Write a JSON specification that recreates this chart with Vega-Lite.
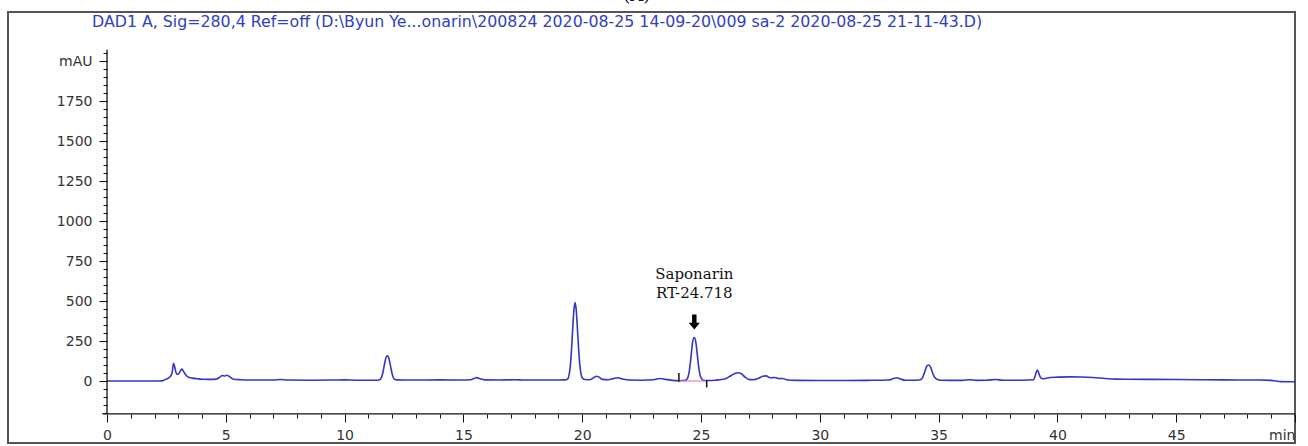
{
  "$schema": "https://vega.github.io/schema/vega-lite/v6.json",
  "width": 1287,
  "height": 431,
  "autosize": {"type": "none"},
  "padding": {"left": 8, "top": 12, "right": 13, "bottom": 3},
  "background": "white",
  "config": {
    "view": {"stroke": "#555555", "strokeWidth": 2},
    "axis": {
      "labelFont": "DejaVu Sans",
      "labelFontSize": 14,
      "labelColor": "#333333",
      "tickColor": "#111111",
      "tickWidth": 1,
      "grid": false,
      "domain": false,
      "title": null,
      "labelOverlap": false,
      "labelFlush": false,
      "labelBound": false
    }
  },
  "datasets": {
    "trace": [
      {"t": 0, "mAU": 0}, {"t": 1, "mAU": 0}, {"t": 2, "mAU": 0}, {"t": 2.2, "mAU": 0},
      {"t": 2.4, "mAU": 5}, {"t": 2.5, "mAU": 12}, {"t": 2.6, "mAU": 20}, {"t": 2.7, "mAU": 35},
      {"t": 2.75, "mAU": 60}, {"t": 2.8, "mAU": 110}, {"t": 2.85, "mAU": 88}, {"t": 2.9, "mAU": 55},
      {"t": 2.95, "mAU": 42}, {"t": 3.0, "mAU": 42}, {"t": 3.05, "mAU": 52}, {"t": 3.1, "mAU": 66},
      {"t": 3.15, "mAU": 75}, {"t": 3.2, "mAU": 65}, {"t": 3.3, "mAU": 40}, {"t": 3.4, "mAU": 26},
      {"t": 3.6, "mAU": 18}, {"t": 3.8, "mAU": 14}, {"t": 4.0, "mAU": 11}, {"t": 4.3, "mAU": 10},
      {"t": 4.6, "mAU": 12}, {"t": 4.75, "mAU": 24}, {"t": 4.85, "mAU": 34}, {"t": 4.95, "mAU": 31},
      {"t": 5.05, "mAU": 36}, {"t": 5.15, "mAU": 28}, {"t": 5.3, "mAU": 13}, {"t": 5.6, "mAU": 8},
      {"t": 6.0, "mAU": 6}, {"t": 7.0, "mAU": 6}, {"t": 7.3, "mAU": 9}, {"t": 7.6, "mAU": 6},
      {"t": 8.5, "mAU": 5}, {"t": 9.5, "mAU": 6}, {"t": 10.0, "mAU": 7}, {"t": 10.5, "mAU": 5},
      {"t": 11.0, "mAU": 5}, {"t": 11.4, "mAU": 5}, {"t": 11.5, "mAU": 10}, {"t": 11.55, "mAU": 22},
      {"t": 11.6, "mAU": 45}, {"t": 11.65, "mAU": 82}, {"t": 11.7, "mAU": 122}, {"t": 11.75, "mAU": 150},
      {"t": 11.8, "mAU": 158}, {"t": 11.85, "mAU": 148}, {"t": 11.9, "mAU": 118}, {"t": 11.95, "mAU": 80},
      {"t": 12.0, "mAU": 45}, {"t": 12.05, "mAU": 22}, {"t": 12.1, "mAU": 11}, {"t": 12.2, "mAU": 7},
      {"t": 12.5, "mAU": 6}, {"t": 13.0, "mAU": 6}, {"t": 14.0, "mAU": 7}, {"t": 15.0, "mAU": 6},
      {"t": 15.3, "mAU": 8}, {"t": 15.45, "mAU": 16}, {"t": 15.55, "mAU": 21}, {"t": 15.7, "mAU": 14},
      {"t": 15.9, "mAU": 7}, {"t": 16.5, "mAU": 6}, {"t": 17.2, "mAU": 8}, {"t": 17.5, "mAU": 6},
      {"t": 18.0, "mAU": 6}, {"t": 19.0, "mAU": 6}, {"t": 19.3, "mAU": 7}, {"t": 19.4, "mAU": 15},
      {"t": 19.45, "mAU": 40}, {"t": 19.5, "mAU": 95}, {"t": 19.55, "mAU": 196}, {"t": 19.6, "mAU": 325},
      {"t": 19.65, "mAU": 441}, {"t": 19.7, "mAU": 490}, {"t": 19.75, "mAU": 441}, {"t": 19.8, "mAU": 325},
      {"t": 19.85, "mAU": 200}, {"t": 19.9, "mAU": 100}, {"t": 19.95, "mAU": 45}, {"t": 20.0, "mAU": 20},
      {"t": 20.1, "mAU": 9}, {"t": 20.3, "mAU": 8}, {"t": 20.5, "mAU": 22}, {"t": 20.6, "mAU": 30},
      {"t": 20.7, "mAU": 25}, {"t": 20.85, "mAU": 10}, {"t": 21.1, "mAU": 8}, {"t": 21.3, "mAU": 15},
      {"t": 21.5, "mAU": 20}, {"t": 21.7, "mAU": 12}, {"t": 22.0, "mAU": 6}, {"t": 22.5, "mAU": 5},
      {"t": 23.0, "mAU": 8}, {"t": 23.3, "mAU": 16}, {"t": 23.5, "mAU": 10}, {"t": 23.8, "mAU": 4},
      {"t": 24.1, "mAU": 2}, {"t": 24.35, "mAU": 5}, {"t": 24.4, "mAU": 10}, {"t": 24.45, "mAU": 24},
      {"t": 24.5, "mAU": 55}, {"t": 24.55, "mAU": 110}, {"t": 24.6, "mAU": 180}, {"t": 24.65, "mAU": 245},
      {"t": 24.72, "mAU": 272}, {"t": 24.78, "mAU": 245}, {"t": 24.83, "mAU": 185}, {"t": 24.88, "mAU": 115},
      {"t": 24.93, "mAU": 60}, {"t": 24.98, "mAU": 28}, {"t": 25.03, "mAU": 12}, {"t": 25.1, "mAU": 5},
      {"t": 25.3, "mAU": 3}, {"t": 25.6, "mAU": 5}, {"t": 26.0, "mAU": 12}, {"t": 26.2, "mAU": 28},
      {"t": 26.4, "mAU": 45}, {"t": 26.55, "mAU": 52}, {"t": 26.7, "mAU": 45}, {"t": 26.85, "mAU": 25},
      {"t": 27.0, "mAU": 10}, {"t": 27.2, "mAU": 8}, {"t": 27.4, "mAU": 15}, {"t": 27.6, "mAU": 30},
      {"t": 27.75, "mAU": 32}, {"t": 27.85, "mAU": 24}, {"t": 28.0, "mAU": 20}, {"t": 28.1, "mAU": 22},
      {"t": 28.3, "mAU": 15}, {"t": 28.45, "mAU": 16}, {"t": 28.6, "mAU": 8}, {"t": 29.0, "mAU": 4},
      {"t": 30.0, "mAU": 3}, {"t": 31.0, "mAU": 3}, {"t": 32.0, "mAU": 4}, {"t": 32.9, "mAU": 6},
      {"t": 33.1, "mAU": 15}, {"t": 33.25, "mAU": 20}, {"t": 33.4, "mAU": 12}, {"t": 33.6, "mAU": 5},
      {"t": 34.0, "mAU": 5}, {"t": 34.2, "mAU": 6}, {"t": 34.3, "mAU": 15}, {"t": 34.35, "mAU": 30},
      {"t": 34.4, "mAU": 50}, {"t": 34.45, "mAU": 72}, {"t": 34.5, "mAU": 92}, {"t": 34.57, "mAU": 100},
      {"t": 34.65, "mAU": 90}, {"t": 34.7, "mAU": 72}, {"t": 34.75, "mAU": 50}, {"t": 34.8, "mAU": 32},
      {"t": 34.85, "mAU": 20}, {"t": 34.95, "mAU": 10}, {"t": 35.1, "mAU": 5}, {"t": 35.5, "mAU": 4},
      {"t": 36.0, "mAU": 4}, {"t": 36.3, "mAU": 8}, {"t": 36.6, "mAU": 4}, {"t": 37.0, "mAU": 5},
      {"t": 37.4, "mAU": 9}, {"t": 37.7, "mAU": 5}, {"t": 38.5, "mAU": 5}, {"t": 39.0, "mAU": 8},
      {"t": 39.05, "mAU": 25}, {"t": 39.1, "mAU": 50}, {"t": 39.15, "mAU": 68}, {"t": 39.2, "mAU": 55},
      {"t": 39.25, "mAU": 35}, {"t": 39.3, "mAU": 20}, {"t": 39.4, "mAU": 14}, {"t": 39.5, "mAU": 16},
      {"t": 39.7, "mAU": 22}, {"t": 40.0, "mAU": 24}, {"t": 40.5, "mAU": 26}, {"t": 41.0, "mAU": 25},
      {"t": 41.5, "mAU": 22}, {"t": 42.0, "mAU": 16}, {"t": 42.5, "mAU": 12}, {"t": 43.0, "mAU": 11},
      {"t": 44.0, "mAU": 10}, {"t": 45.0, "mAU": 9}, {"t": 46.0, "mAU": 8}, {"t": 47.0, "mAU": 7},
      {"t": 48.5, "mAU": 6}, {"t": 49.0, "mAU": 4}, {"t": 49.2, "mAU": 0}, {"t": 49.4, "mAU": -4},
      {"t": 50.0, "mAU": -5}
    ],
    "marks": [
      {"t": 24.07, "lo": -4, "hi": 50},
      {"t": 25.24, "lo": -40, "hi": 6}
    ],
    "baseline": [
      {"start": 24.07, "end": 25.24, "level": 0}
    ],
    "peak": [
      {"rt": 24.718, "label": "Saponarin\nRT-24.718", "textLevel": 666, "arrowLevel": 369}
    ],
    "header": [
      {"label": "DAD1 A, Sig=280,4 Ref=off (D:\\Byun Ye...onarin\\200824 2020-08-25 14-09-20\\009 sa-2 2020-08-25 21-11-43.D)", "t": -0.63, "level": 2244}
    ],
    "panel": [
      {"label": "(A)", "t": 22.3, "level": 2350}
    ]
  },
  "layer": [
    {
      "data": {"name": "trace"},
      "mark": {"type": "line", "color": "#3535c8", "strokeWidth": 1.6, "interpolate": "monotone", "clip": true},
      "encoding": {
        "x": {
          "field": "t", "type": "quantitative",
          "scale": {"domain": [-4.1667, 50], "nice": false, "zero": false},
          "axis": {
            "orient": "bottom",
            "offset": -29,
            "tickCount": 200,
            "values": [0,1,2,3,4,5,6,7,8,9,10,11,12,13,14,15,16,17,18,19,20,21,22,23,24,25,26,27,28,29,30,31,32,33,34,35,36,37,38,39,40,41,42,43,44,45,46,47,48,49,50],
            "format": "d",
            "labelExpr": "datum.value % 5 === 0 ? (datum.value === 50 ? 'min' : datum.label) : ''",
            "labelAlign": {"condition": {"test": "datum.value === 50", "value": "right"}, "value": "center"},
            "tickSize": {"condition": {"test": "datum.value % 5 === 0", "value": 8}, "value": 4},
            "labelPadding": 6
          }
        },
        "y": {
          "field": "mAU", "type": "quantitative",
          "scale": {"domain": [-387.5, 2306.25], "nice": false, "zero": false},
          "axis": {
            "orient": "left",
            "offset": -99,
            "tickCount": 200,
            "values": [-200,-150,-100,-50,0,50,100,150,200,250,300,350,400,450,500,550,600,650,700,750,800,850,900,950,1000,1050,1100,1150,1200,1250,1300,1350,1400,1450,1500,1550,1600,1650,1700,1750,1800,1850,1900,1950,2000,2050],
            "format": "d",
            "labelExpr": "datum.value === 2000 ? 'mAU' : ((datum.value % 250 === 0 && datum.value >= 0) ? datum.label : '')",
            "tickSize": {"condition": {"test": "datum.value % 250 === 0 && datum.value >= 0", "value": 8}, "value": 4},
            "labelPadding": 7
          }
        }
      }
    },
    {
      "data": {"values": [{}]},
      "mark": {"type": "rule", "color": "#111111", "strokeWidth": 1.3},
      "encoding": {
        "x": {"datum": 0, "type": "quantitative"},
        "y": {"datum": -206, "type": "quantitative"},
        "y2": {"datum": 2070}
      }
    },
    {
      "data": {"values": [{}]},
      "mark": {"type": "rule", "color": "#111111", "strokeWidth": 1.3},
      "encoding": {
        "x": {"datum": -0.2, "type": "quantitative"},
        "x2": {"datum": 50},
        "y": {"datum": -206, "type": "quantitative"}
      }
    },
    {
      "data": {"name": "baseline"},
      "mark": {"type": "rule", "color": "#e57fb5", "strokeWidth": 1.2},
      "encoding": {
        "x": {"field": "start", "type": "quantitative"},
        "x2": {"field": "end"},
        "y": {"field": "level", "type": "quantitative"}
      }
    },
    {
      "data": {"name": "marks"},
      "mark": {"type": "rule", "color": "#111111", "strokeWidth": 1.5},
      "encoding": {
        "x": {"field": "t", "type": "quantitative"},
        "y": {"field": "lo", "type": "quantitative"},
        "y2": {"field": "hi"}
      }
    },
    {
      "data": {"name": "peak"},
      "mark": {"type": "text", "font": "DejaVu Serif", "fontSize": 15, "color": "#111111", "align": "center", "baseline": "middle", "lineBreak": "\n", "lineHeight": 19},
      "encoding": {
        "x": {"field": "rt", "type": "quantitative"},
        "y": {"field": "textLevel", "type": "quantitative"},
        "text": {"field": "label", "type": "nominal"}
      }
    },
    {
      "data": {"name": "peak"},
      "mark": {"type": "point", "shape": "M-0.3,-1L0.3,-1L0.3,0.1L0.75,0.1L0,1L-0.75,0.1L-0.3,0.1Z", "filled": true, "color": "#000000", "opacity": 1, "size": 220},
      "encoding": {
        "x": {"field": "rt", "type": "quantitative"},
        "y": {"field": "arrowLevel", "type": "quantitative"}
      }
    },
    {
      "data": {"name": "header"},
      "mark": {"type": "text", "font": "DejaVu Sans", "fontSize": 15.8, "color": "#3040c0", "align": "left", "baseline": "middle"},
      "encoding": {
        "x": {"field": "t", "type": "quantitative"},
        "y": {"field": "level", "type": "quantitative"},
        "text": {"field": "label", "type": "nominal"}
      }
    },
    {
      "data": {"name": "panel"},
      "mark": {"type": "text", "font": "DejaVu Serif", "fontSize": 18, "color": "#111111", "align": "center", "baseline": "bottom"},
      "encoding": {
        "x": {"field": "t", "type": "quantitative"},
        "y": {"field": "level", "type": "quantitative"},
        "text": {"field": "label", "type": "nominal"}
      }
    }
  ]
}
